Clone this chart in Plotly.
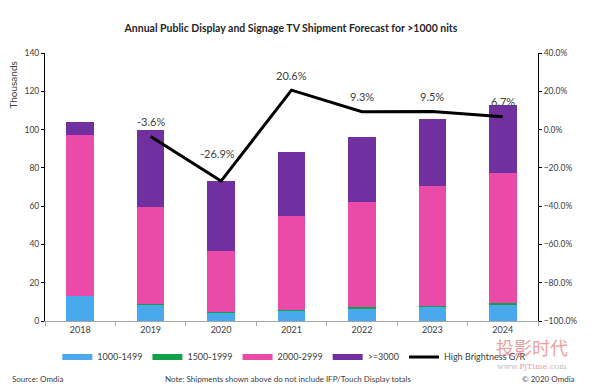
import plotly.graph_objects as go

years = ["2018", "2019", "2020", "2021", "2022", "2023", "2024"]
s_1000_1499 = [13.1, 8.8, 4.5, 5.4, 6.6, 7.6, 8.5]
s_1500_1999 = [0.1, 0.2, 0.1, 0.2, 0.6, 0.4, 0.8]
s_2000_2999 = [83.8, 50.6, 31.8, 49.4, 54.8, 62.4, 68.1]
s_3000_plus = [7.0, 40.2, 36.6, 33.3, 34.3, 35.2, 35.5]
growth_pct = [None, -3.6, -26.9, 20.6, 9.3, 9.5, 6.7]

FONT = "Lato"
GREY = "#404040"

fig = go.Figure()
series = [
    ("1000-1499", s_1000_1499, "#4aa8ec"),
    ("1500-1999", s_1500_1999, "#13a04b"),
    ("2000-2999", s_2000_2999, "#ea4aa8"),
    (">=3000", s_3000_plus, "#7030a0"),
]
for name, vals, col in series:
    fig.add_trace(go.Bar(x=years, y=vals, name=name, marker_color=col,
                         marker_line_width=0, showlegend=False, legendgroup=name))
    # legend entry drawn as a wide swatch (Excel style)
    fig.add_trace(go.Scatter(x=[None], y=[None], name=name, mode="lines",
                             line=dict(color=col, width=6), legendgroup=name))

growth_frac = [None if g is None else g / 100 for g in growth_pct]
fig.add_trace(go.Scatter(x=years, y=growth_frac, name="High Brightness G/R",
                         mode="lines", line=dict(color="black", width=3),
                         yaxis="y2"))

annotations = []
for i, g in enumerate(growth_pct):
    if g is None:
        continue
    shift = 28 if g < -20 else 15
    annotations.append(dict(x=i, y=g / 100, xref="x", yref="y2",
                            text=f"{g:.1f}%", showarrow=False,
                            yshift=shift, xshift=-4 if g < -20 else 0,
                            font=dict(family=FONT, size=11, color=GREY)))

annotations += [
    dict(text="Thousands", textangle=-90, x=-0.064, y=0.88, xref="paper", yref="paper",
         xanchor="center", yanchor="middle",
         showarrow=False, font=dict(family=FONT, size=10, color=GREY)),
    dict(text="Source: Omdia", x=-0.071, y=-0.216, xref="paper", yref="paper",
         xanchor="left", yanchor="middle", showarrow=False,
         font=dict(family=FONT, size=8, color=GREY)),
    dict(text="Note: Shipments shown above do not include IFP/Touch Display totals",
         x=0.493, y=-0.216, xref="paper", yref="paper", xanchor="center",
         yanchor="middle", showarrow=False, font=dict(family=FONT, size=8, color=GREY)),
    dict(text="© 2020 Omdia", x=1.079, y=-0.216, xref="paper", yref="paper",
         xanchor="right", yanchor="middle", showarrow=False,
         font=dict(family=FONT, size=8, color=GREY)),
    # site watermark
    dict(text="投影时代", x=0.988, y=-0.098, xref="paper", yref="paper",
         xanchor="center", yanchor="middle", showarrow=False, opacity=0.55,
         font=dict(family="Noto Sans CJK SC", size=18, color="#e05050")),
    dict(text="www.<span style='color:#e06060'>PjTime</span>.com", x=0.988, y=-0.17,
         xref="paper", yref="paper", xanchor="center", yanchor="middle",
         showarrow=False, opacity=0.6,
         font=dict(family="DejaVu Serif", size=8, color="#909090")),
]

# page body has an 8px default margin, so the figure is sized 8px smaller
fig.update_layout(
    width=592, height=381,
    margin=dict(l=37, r=62, t=45, b=68),
    paper_bgcolor="white", plot_bgcolor="white",
    barmode="stack", bargap=0.61,
    title=dict(text="<b>Annual Public Display and Signage TV Shipment Forecast for >1000 nits</b>",
               x=0.478, xanchor="center", y=0.947, yanchor="middle",
               font=dict(family=FONT, size=10.5, color="#262626")),
    font=dict(family=FONT, size=9, color=GREY),
    xaxis=dict(type="category", showline=True, linecolor="#a6a6a6", linewidth=1,
               ticks="outside", tickson="boundaries", ticklen=4, tickcolor="#a6a6a6",
               showgrid=False, tickfont=dict(family=FONT, size=9, color=GREY)),
    yaxis=dict(range=[0, 140], dtick=20, showline=True, linecolor="black", linewidth=1,
               ticks="outside", ticklen=3, tickcolor="black", showgrid=False,
               zeroline=False, tickfont=dict(family=FONT, size=8.5, color=GREY)),
    yaxis2=dict(range=[-1.0, 0.4], dtick=0.2, tickformat=".1%", overlaying="y",
                side="right", showline=True, linecolor="black", linewidth=1,
                ticks="outside", ticklen=3, tickcolor="black", showgrid=False,
                zeroline=False, tickfont=dict(family=FONT, size=8.5, color=GREY)),
    legend=dict(orientation="h", x=0.025, xanchor="left", y=-0.134, yanchor="middle",
                font=dict(family=FONT, size=9, color=GREY), traceorder="normal",
                itemwidth=30),
    annotations=annotations,
)

fig.write_html("out.html")
